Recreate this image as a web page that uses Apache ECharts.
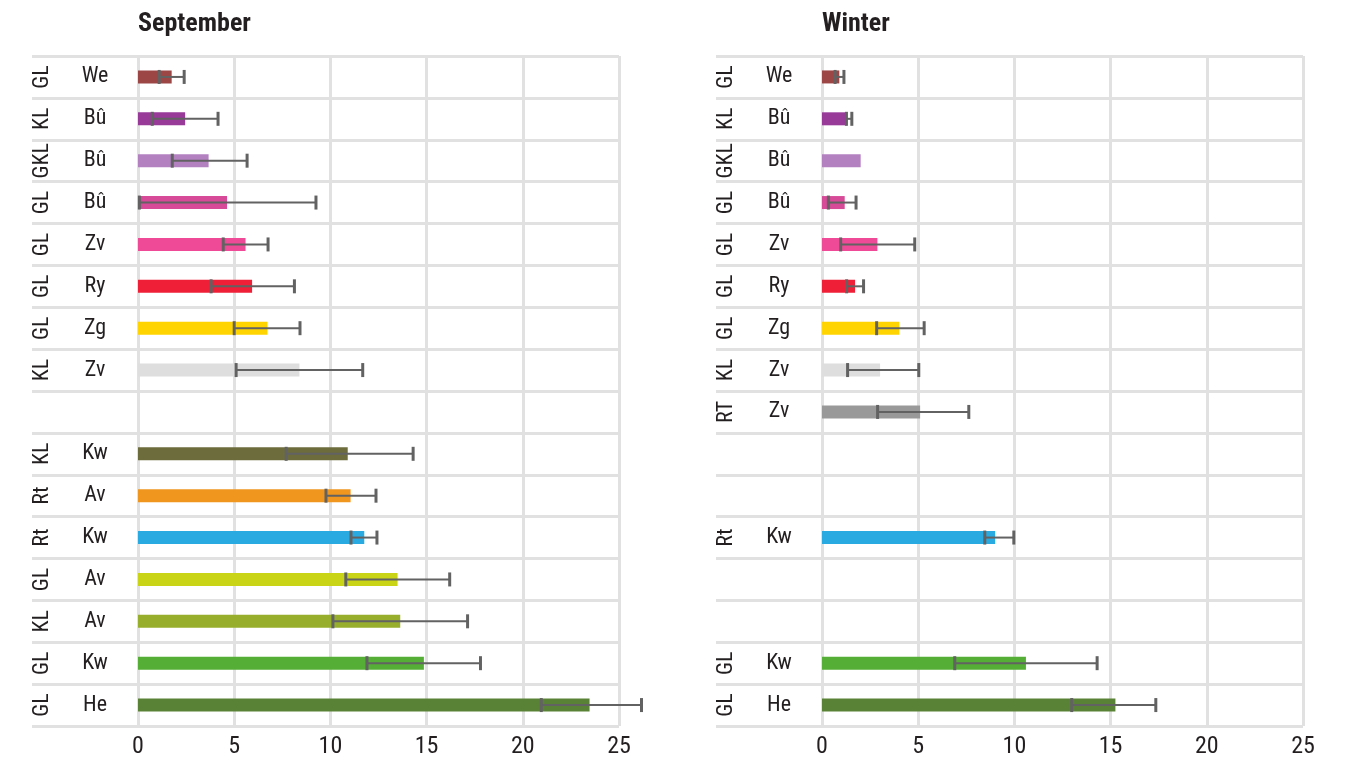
<!DOCTYPE html>
<html>
<head>
<meta charset="utf-8">
<script src="https://cdn.jsdelivr.net/npm/echarts@6/dist/echarts.min.js"></script>
<style>
  html, body { margin: 0; padding: 0; background: #ffffff; }
  #chart { width: 1347px; height: 760px; }
</style>
</head>
<body>
<div id="chart"></div>
<script>
// Row labels (16 rows, top to bottom)
const sepCodes   = ['GL','KL','GKL','GL','GL','GL','GL','KL','','KL','Rt','Rt','GL','KL','GL','GL'];
const sepSpecies = ['We','Bû','Bû','Bû','Zv','Ry','Zg','Zv','','Kw','Av','Kw','Av','Av','Kw','He'];
const winCodes   = ['GL','KL','GKL','GL','GL','GL','GL','KL','RT','','','Rt','','','GL','GL'];
const winSpecies = ['We','Bû','Bû','Bû','Zv','Ry','Zg','Zv','Zv','','','Kw','','','Kw','He'];

// September: mean and error range (low / high)
const sepMean = [1.75, 2.45, 3.67, 4.63, 5.59, 5.93, 6.73, 8.39, null, 10.9, 11.05, 11.76, 13.49, 13.63, 14.86, 23.47];
const sepLow  = [1.10, 0.74, 1.78, 0.07, 4.43, 3.80, 5.00, 5.10, null, 7.70, 9.77, 11.07, 10.80, 10.13, 11.90, 20.96];
const sepHigh = [2.40, 4.16, 5.67, 9.25, 6.76, 8.13, 8.42, 11.68, null, 14.30, 12.37, 12.42, 16.20, 17.13, 17.80, 26.17];

// Winter: mean and error range (low / high)
const winMean = [0.90, 1.30, 2.01, 1.18, 2.88, 1.72, 4.02, 3.02, 5.10, null, null, 9.00, null, null, 10.60, 15.25];
const winLow  = [0.68, 1.27, null, 0.33, 0.97, 1.28, 2.84, 1.33, 2.89, null, null, 8.46, null, null, 6.90, 12.98];
const winHigh = [1.14, 1.55, null, 1.77, 4.82, 2.16, 5.31, 5.03, 7.63, null, null, 9.97, null, null, 14.30, 17.35];

// Bar colours per row
const sepColors = ['#9c4646','#973a98','#b381c0','#d64a98','#ef4a97','#ee1f37','#ffd400','#dedede','#999999','#6d6c3c','#f0961f','#29aae1','#c8d415','#97ae2c','#55ae36','#5a8236'];
const winColors = ['#9c4646','#973a98','#b381c0','#d64a98','#ef4a97','#ee1f37','#ffd400','#dedede','#999999','#6d6c3c','#f0961f','#29aae1','#c8d415','#97ae2c','#55ae36','#5a8236'];

const xTicks = [0, 5, 10, 15, 20, 25];
const titles = ['September', 'Winter'];

const FONT = "'Roboto Condensed', 'DejaVu Sans Condensed', 'Liberation Sans Narrow', 'Roboto', sans-serif";
const GRID_COLOR = '#e1e1e1';
const TEXT_COLOR = '#231f20';
const ERR_COLOR = '#626262';

const rowIdx = sepSpecies.map((_, i) => String(i));

const panels = [
  { codes: sepCodes, species: sepSpecies, mean: sepMean, low: sepLow, high: sepHigh, colors: sepColors, left: 138 },
  { codes: winCodes, species: winSpecies, mean: winMean, low: winLow, high: winHigh, colors: winColors, left: 822 }
];

const grids = [], xAxes = [], yAxes = [], series = [], title = [];

panels.forEach((p, k) => {
  grids.push({ left: p.left, width: 481, top: 56, height: 670, containLabel: false, outerBoundsMode: 'none' });
  title.push({
    text: titles[k], left: p.left, top: 11, padding: 0,
    textStyle: { fontFamily: FONT, fontSize: 26, fontWeight: 'bold', color: TEXT_COLOR }
  });
  xAxes.push({
    gridIndex: k, type: 'value', min: 0, max: 25, interval: 5, position: 'bottom',
    axisLine: { show: false }, axisTick: { show: false },
    axisLabel: { fontFamily: FONT, fontSize: 24, color: TEXT_COLOR, margin: 9,
      formatter: v => xTicks.includes(v) ? String(v) : '' },
    splitLine: { show: true, lineStyle: { color: GRID_COLOR, width: 3 } }
  });
  // species labels + row separators extending into the label column
  yAxes.push({
    gridIndex: k, type: 'category', position: 'left', inverse: true, data: rowIdx, boundaryGap: true,
    axisLine: { show: false },
    axisTick: { show: true, interval: 0, length: 106, lineStyle: { color: GRID_COLOR, width: 3 } },
    axisLabel: { interval: 0, margin: 43, align: 'center', verticalAlign: 'middle',
      fontFamily: FONT, fontSize: 22, color: TEXT_COLOR, padding: [6, 0, 0, 0],
      formatter: v => p.species[+v] },
    splitLine: { show: true, interval: 0, lineStyle: { color: GRID_COLOR, width: 3 } }
  });
  // rotated site codes
  yAxes.push({
    gridIndex: k, type: 'category', position: 'left', offset: 0, inverse: true, data: rowIdx, boundaryGap: true,
    axisLine: { show: false }, axisTick: { show: false }, splitLine: { show: false },
    axisLabel: { interval: 0, margin: 96, rotate: 90, align: 'center', verticalAlign: 'middle',
      fontFamily: FONT, fontSize: 22, color: TEXT_COLOR,
      formatter: v => p.codes[+v] }
  });

  series.push({
    type: 'bar', xAxisIndex: k, yAxisIndex: k * 2, barWidth: 13, silent: true,
    data: p.mean.map((m, i) => m == null ? '-' : { value: m, itemStyle: { color: p.colors[i] } })
  });

  const errData = [];
  p.low.forEach((lo, i) => { if (lo != null) errData.push([lo, p.high[i], i]); });
  series.push({
    type: 'custom', xAxisIndex: k, yAxisIndex: k * 2, silent: true, clip: false, z: 5,
    encode: { x: [0, 1], y: 2 },
    data: errData,
    renderItem: (params, api) => {
      const a = api.coord([api.value(0), api.value(2)]);
      const b = api.coord([api.value(1), api.value(2)]);
      const h = 7;
      const st = { stroke: ERR_COLOR, lineWidth: 2 };
      const cap = { stroke: ERR_COLOR, lineWidth: 3 };
      return { type: 'group', children: [
        { type: 'line', shape: { x1: a[0], y1: a[1], x2: b[0], y2: b[1] }, style: st },
        { type: 'line', shape: { x1: a[0], y1: a[1] - h, x2: a[0], y2: a[1] + h }, style: cap },
        { type: 'line', shape: { x1: b[0], y1: b[1] - h, x2: b[0], y2: b[1] + h }, style: cap }
      ]};
    }
  });
});

const chart = echarts.init(document.getElementById('chart'), null, { renderer: 'canvas' });
chart.setOption({
  animation: false,
  backgroundColor: '#ffffff',
  title: title,
  grid: grids,
  xAxis: xAxes,
  yAxis: yAxes,
  series: series
});
</script>
</body>
</html>
